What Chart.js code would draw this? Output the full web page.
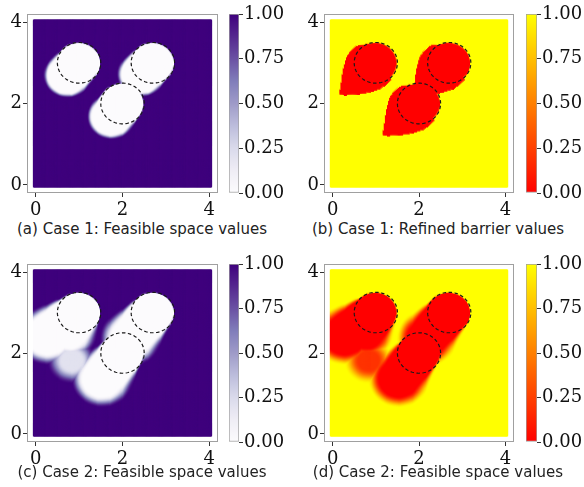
<!DOCTYPE html>
<html>
<head>
<meta charset="utf-8">
<script src="https://cdn.jsdelivr.net/npm/chart.js@4.4.1/dist/chart.umd.min.js"></script>
<style>
  body { margin: 0; background: #fff; width: 584px; height: 487px; position: relative; overflow: hidden; }
  canvas { position: absolute; }
  .cap { position: absolute; width: 292px; text-align: center; font: 15px "DejaVu Sans", sans-serif; color: #222; line-height: 20px; white-space: nowrap; }
</style>
</head>
<body>
<canvas id="mapA" width="224" height="215" style="left:0;top:0"></canvas>
<canvas id="barA" width="67" height="215" style="left:225px;top:0"></canvas>
<canvas id="mapB" width="224" height="215" style="left:296px;top:0"></canvas>
<canvas id="barB" width="62" height="215" style="left:522px;top:0"></canvas>
<canvas id="mapC" width="224" height="215" style="left:0;top:250px"></canvas>
<canvas id="barC" width="67" height="215" style="left:225px;top:250px"></canvas>
<canvas id="mapD" width="224" height="215" style="left:296px;top:250px"></canvas>
<canvas id="barD" width="62" height="215" style="left:522px;top:250px"></canvas>
<div class="cap" id="capA" style="left:-4px;top:219px"></div>
<div class="cap" id="capB" style="left:292px;top:219px"></div>
<div class="cap" id="capC" style="left:-4px;top:462px"></div>
<div class="cap" id="capD" style="left:292px;top:462px"></div>
<script>
// 1) data
const axisTicks = [0, 2, 4];
const colorTicks = [0, 0.25, 0.5, 0.75, 1];

// obstacles (dashed circles)
const obstacleX = [1.0, 2.7, 2.0];
const obstacleY = [3.0, 3.0, 2.0];
const obstacleR = [0.5, 0.5, 0.5];

// case 1 feasible space: shadow circle offset from each obstacle
const case1ShiftX = [-0.25, -0.25, -0.24];
const case1ShiftY = [-0.29, -0.27, -0.31];

// case 1 refined barrier: teardrop outline, relative to each obstacle centre
const barrierOutlineX = [0, -0.25, -0.405, -0.56, -0.67, -0.75, -0.79, -0.83, -0.71, -0.5, -0.25, -0.05, 0.14, 0.37, 0.3];
const barrierOutlineY = [0.5, 0.46, 0.44, 0.31, 0.15, -0.18, -0.5, -0.76, -0.79, -0.78, -0.75, -0.7, -0.63, -0.42, 0];

// case 2 feasible space: swept shadows (which obstacle, shift, radius growth)
const shadowObstacle = [0, 0, 1, 2];
const shadowShiftX = [-0.7, -0.2, -0.5, -0.45];
const shadowShiftY = [-0.55, -0.5, -0.62, -0.62];
const shadowGrow = [0.1, 0.0, 0.07, 0.08];

// case 2: dim patch below the first shadow
const patchX = [0.85];
const patchY = [1.82];
const patchR = [0.4];
const patchValue = [0.2];

const captions = [
  '(a) Case 1: Feasible space values',
  '(b) Case 1: Refined barrier values',
  '(c) Case 2: Feasible space values',
  '(d) Case 2: Feasible space values'
];

// 2) colormaps
const purplesStops = ['#fcfbfd', '#efedf5', '#dadaeb', '#bcbddc', '#9e9ac8', '#807dba', '#6a51a3', '#54278f', '#3f007d']
  .map(h => [parseInt(h.slice(1, 3), 16), parseInt(h.slice(3, 5), 16), parseInt(h.slice(5, 7), 16)]);

function purples(v) {
  const p = Math.min(1, Math.max(0, v)) * (purplesStops.length - 1);
  const i = Math.min(purplesStops.length - 2, Math.floor(p));
  const f = p - i;
  const a = purplesStops[i], b = purplesStops[i + 1];
  return `rgb(${Math.round(a[0] + (b[0] - a[0]) * f)},${Math.round(a[1] + (b[1] - a[1]) * f)},${Math.round(a[2] + (b[2] - a[2]) * f)})`;
}

function autumn(v) {
  const g = Math.round(Math.min(1, Math.max(0, v)) * 255);
  return `rgb(255,${g},0)`;
}

// 3) field helpers
function smoothstep(a, b, x) {
  const t = Math.min(1, Math.max(0, (x - a) / (b - a)));
  return t * t * (3 - 2 * t);
}

function sweep(px, py, i, sx, sy, radiusAt, blurAt, steps) {
  let m = 0;
  for (let k = 0; k <= steps; k++) {
    const t = k / steps;
    const r = radiusAt(t);
    if (r <= 0) continue;
    const d = Math.hypot(px - (obstacleX[i] + t * sx), py - (obstacleY[i] + t * sy)) - r;
    const w = blurAt(t);
    const v = 1 - smoothstep(-w, w, d);
    if (v > m) m = v;
  }
  return m;
}

function insideOutline(px, py, cx, cy) {
  let inside = false;
  const n = barrierOutlineX.length;
  for (let a = 0, b = n - 1; a < n; b = a++) {
    const xa = cx + barrierOutlineX[a], ya = cy + barrierOutlineY[a];
    const xb = cx + barrierOutlineX[b], yb = cy + barrierOutlineY[b];
    if ((ya > py) !== (yb > py) && px < (xb - xa) * (py - ya) / (yb - ya) + xa) inside = !inside;
  }
  return inside;
}

function fieldCase1(px, py) {
  let m = 0;
  for (let i = 0; i < obstacleX.length; i++) {
    m = Math.max(m, sweep(px, py, i, case1ShiftX[i], case1ShiftY[i], () => obstacleR[i], t => 0.012 + 0.05 * t, 12));
  }
  return 1 - m;
}

function fieldBarrier(px, py) {
  let m = 0;
  for (let i = 0; i < obstacleX.length; i++) {
    if (insideOutline(px, py, obstacleX[i], obstacleY[i])) return 0;
    const d = Math.hypot(px - obstacleX[i], py - obstacleY[i]) - obstacleR[i];
    m = Math.max(m, 1 - smoothstep(-0.012, 0.012, d));
  }
  return 1 - m;
}

function fieldCase2(px, py) {
  let m = 0;
  for (let s = 0; s < shadowObstacle.length; s++) {
    const i = shadowObstacle[s];
    m = Math.max(m, sweep(px, py, i, shadowShiftX[s], shadowShiftY[s], t => obstacleR[i] + shadowGrow[s] * t, t => 0.012 + 0.13 * t, 24));
  }
  for (let j = 0; j < patchX.length; j++) {
    const d = Math.hypot(px - patchX[j], py - patchY[j]) - patchR[j];
    m = Math.max(m, (1 - patchValue[j]) * (1 - smoothstep(-0.18, 0.18, d)));
  }
  return 1 - m;
}

// grid of sample points
const gridMin = -0.0375, gridMax = 4.0375, gridStep = 0.025;
const gridPts = [];
for (let x = gridMin; x <= gridMax + 1e-9; x += gridStep) {
  for (let y = gridMin; y <= gridMax + 1e-9; y += gridStep) {
    gridPts.push({ x, y });
  }
}
const valuesCase1 = gridPts.map(p => fieldCase1(p.x, p.y));
const valuesBarrier = gridPts.map(p => fieldBarrier(p.x, p.y));
const valuesCase2 = gridPts.map(p => fieldCase2(p.x, p.y));

// dashed obstacle outlines
function circleDatasets() {
  return obstacleX.map((cx, i) => {
    const pts = [];
    for (let k = 0; k <= 120; k++) {
      const a = (k / 120) * Math.PI * 2;
      pts.push({ x: cx + obstacleR[i] * Math.cos(a), y: obstacleY[i] + obstacleR[i] * Math.sin(a) });
    }
    return {
      data: pts, showLine: true, pointRadius: 0, borderColor: '#1a1a1a', borderWidth: 1.2,
      borderDash: [3.5, 2.5], fill: false, tension: 0, order: 0
    };
  });
}

const framePlugin = {
  id: 'frame',
  afterDraw(chart) {
    const { ctx, chartArea: a } = chart;
    ctx.save();
    ctx.strokeStyle = '#a0a0a0';
    ctx.lineWidth = 1;
    ctx.strokeRect(a.left + 0.5, a.top + 0.5, a.right - a.left - 1, a.bottom - a.top - 1);
    ctx.restore();
  }
};

const tickFont = { family: 'DejaVu Serif', size: 18 };

// 4) heat map chart
function makeMap(id, values, cmap, yAxisWidth, xAxisHeight) {
  const colors = values.map(v => cmap(v));
  new Chart(document.getElementById(id), {
    type: 'scatter',
    data: {
      datasets: [
        ...circleDatasets(),
        { data: gridPts, pointStyle: 'rect', pointRadius: 1.6, pointBackgroundColor: colors, pointBorderWidth: 0, order: 10 }
      ]
    },
    options: {
      responsive: false,
      animation: false,
      events: [],
      layout: { padding: { top: 14, right: 6, left: 0, bottom: 0 } },
      plugins: { legend: { display: false }, tooltip: { enabled: false } },
      scales: {
        x: {
          type: 'linear', min: -0.2, max: 4.2,
          afterBuildTicks: s => { s.ticks = axisTicks.map(v => ({ value: v })); },
          afterFit: s => { s.height = xAxisHeight; },
          ticks: { font: tickFont, color: '#111', padding: 3, maxRotation: 0 },
          grid: { drawOnChartArea: false, tickLength: 4, tickColor: '#333' },
          border: { display: false }
        },
        y: {
          type: 'linear', min: -0.2, max: 4.2,
          afterBuildTicks: s => { s.ticks = axisTicks.map(v => ({ value: v })); },
          afterFit: s => { s.width = yAxisWidth; },
          ticks: { font: tickFont, color: '#111', padding: 1 },
          grid: { drawOnChartArea: false, tickLength: 4, tickColor: '#333' },
          border: { display: false }
        }
      }
    },
    plugins: [framePlugin]
  });
}

// 5) colorbar chart
function makeBar(id, cmap, axisWidth, padBottom) {
  new Chart(document.getElementById(id), {
    type: 'bar',
    data: {
      labels: [''],
      datasets: [{
        data: [colorTicks[colorTicks.length - 1]],
        backgroundColor: c => {
          const area = c.chart.chartArea;
          if (!area) return null;
          const g = c.chart.ctx.createLinearGradient(0, area.bottom, 0, area.top);
          for (let k = 0; k <= 32; k++) g.addColorStop(k / 32, cmap(k / 32));
          return g;
        },
        borderColor: '#a0a0a0', borderWidth: 1, borderSkipped: false,
        barPercentage: 1, categoryPercentage: 1
      }]
    },
    options: {
      responsive: false,
      animation: false,
      events: [],
      layout: { padding: { top: 14, left: 4, right: 0, bottom: padBottom } },
      plugins: { legend: { display: false }, tooltip: { enabled: false } },
      scales: {
        x: { display: false },
        y: {
          position: 'right', min: 0, max: 1,
          afterBuildTicks: s => { s.ticks = colorTicks.map(v => ({ value: v })); },
          afterFit: s => { s.width = axisWidth; },
          ticks: { font: tickFont, color: '#111', padding: 1, callback: v => Number(v).toFixed(2) },
          grid: { drawOnChartArea: false, tickLength: 4, tickColor: '#333' },
          border: { display: false }
        }
      }
    }
  });
}

makeMap('mapA', valuesCase1, purples, 27, 22);
makeMap('mapB', valuesBarrier, autumn, 28, 22);
makeMap('mapC', valuesCase2, purples, 27, 23);
makeMap('mapD', valuesCase2, autumn, 28, 23);
makeBar('barA', purples, 53, 22);
makeBar('barB', autumn, 47, 22);
makeBar('barC', purples, 53, 23);
makeBar('barD', autumn, 47, 23);

['capA', 'capB', 'capC', 'capD'].forEach((id, i) => { document.getElementById(id).textContent = captions[i]; });
</script>
</body>
</html>
